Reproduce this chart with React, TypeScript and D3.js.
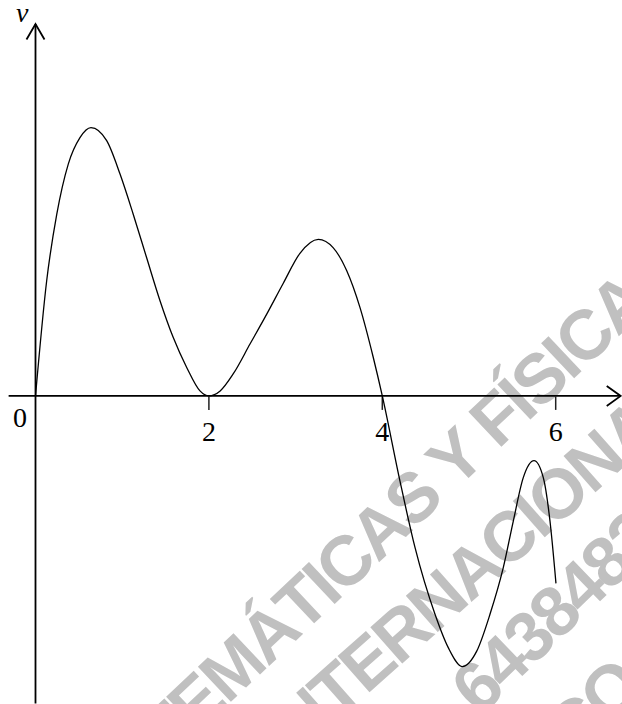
import React from "react";
import * as d3 from "d3";

// ---- data ----
const tValues = [0, 0.129, 0.245, 0.378, 0.513, 0.64, 0.821, 0.975, 1.128, 1.282, 1.436, 1.589, 1.744, 1.897, 2.0, 2.13, 2.28, 2.474, 2.667, 2.858, 3.05, 3.262, 3.435, 3.59, 3.743, 3.896, 4.0, 4.204, 4.377, 4.608, 4.761, 4.923, 5.089, 5.242, 5.396, 5.511, 5.626, 5.75, 5.857, 5.934, 6.003];
const vValues = [0, 2.31, 3.64, 4.65, 5.18, 5.38, 5.12, 4.45, 3.64, 2.77, 1.91, 1.17, 0.57, 0.10, 0, 0.10, 0.44, 1.04, 1.64, 2.26, 2.86, 3.14, 2.97, 2.51, 1.77, 0.77, 0, -1.71, -3.04, -4.38, -5.05, -5.43, -5.12, -4.38, -3.44, -2.51, -1.64, -1.30, -1.64, -2.51, -3.76];
const xTicks = [2, 4, 6];
const xTickLabels = ["2", "4", "6"];
const originLabel = "0";
const yAxisLabel = "v";
const watermarkLines = ["MATEMÁTICAS Y FÍSICA", "INTERNACIONAL", "6438482", "CO"];

const W = 622;
const H = 704;

export default function App() {
  const x = d3.scaleLinear().domain([0, 6]).range([35.5, 555.7]);
  const y = d3.scaleLinear().domain([-6.2, 7.5]).range([705, 22]);

  const pts: [number, number][] = tValues.map((t, i) => [t, vValues[i]]);
  const line = d3
    .line<[number, number]>()
    .x((d) => x(d[0]))
    .y((d) => y(d[1]))
    .curve(d3.curveMonotoneX);

  const x0 = x(0);
  const y0 = y(0);
  const xStart = x(-0.31);
  const xEnd = x(6.75);
  const yTop = y(7.46);
  const yBottom = y(-6.17);

  const serif = "'Liberation Serif', 'Times New Roman', serif";
  const wmFont = "'Liberation Sans', Arial, sans-serif";
  const wmFill = "#c0c0c0";

  // watermark anchor placements
  const wm = [
    { text: watermarkLines[0], px: 652, py: 305, anchor: "end", angle: -43.3 },
    { text: watermarkLines[1], px: 693, py: 406, anchor: "end", angle: -41.5 },
    { text: watermarkLines[2], px: 480, py: 717, anchor: "start", angle: -44 },
    { text: watermarkLines[3], px: 645, py: 690, anchor: "end", angle: -44 },
  ];

  return (
    <svg
      width={W}
      height={H}
      viewBox={`0 0 ${W} ${H}`}
      style={{ position: "absolute", left: 0, top: 0, display: "block", background: "#fff" }}
    >
      <rect x={0} y={0} width={W} height={H} fill="#fff" />
      {/* watermark */}
      <g fill={wmFill} fontFamily={wmFont} fontWeight="bold" fontSize={70} letterSpacing={-3}>
        {wm.map((w, i) => (
          <text
            key={i}
            textAnchor={w.anchor as any}
            transform={`translate(${w.px},${w.py}) rotate(${w.angle})`}
          >
            {w.text}
          </text>
        ))}
      </g>

      {/* axes */}
      <g stroke="#000" fill="none" strokeWidth={1.8}>
        <line x1={xStart} y1={y0} x2={xEnd} y2={y0} />
        <polyline points={`${xEnd - 14},${y0 - 10} ${xEnd},${y0} ${xEnd - 14},${y0 + 10}`} />
        <line x1={x0} y1={yBottom} x2={x0} y2={yTop} />
        <polyline points={`${x0 - 9},${yTop + 15.5} ${x0},${yTop} ${x0 + 9},${yTop + 15.5}`} />
      </g>
      {/* ticks */}
      <g stroke="#222" strokeWidth={1.5}>
        {xTicks.map((t) => (
          <line key={t} x1={x(t)} x2={x(t)} y1={y0} y2={y0 + 14} />
        ))}
      </g>
      {/* labels */}
      <g fontFamily={serif} fontSize={28} fill="#000">
        <text x={x0 - 15.5} y={427} textAnchor="middle">
          {originLabel}
        </text>
        {xTicks.map((t, i) => (
          <text key={t} x={x(t)} y={441} textAnchor="middle">
            {xTickLabels[i]}
          </text>
        ))}
        <text x={16} y={22} fontStyle="italic">
          {yAxisLabel}
        </text>
      </g>

      {/* curve */}
      <path d={line(pts) || ""} fill="none" stroke="#000" strokeWidth={1.3} />
    </svg>
  );
}
